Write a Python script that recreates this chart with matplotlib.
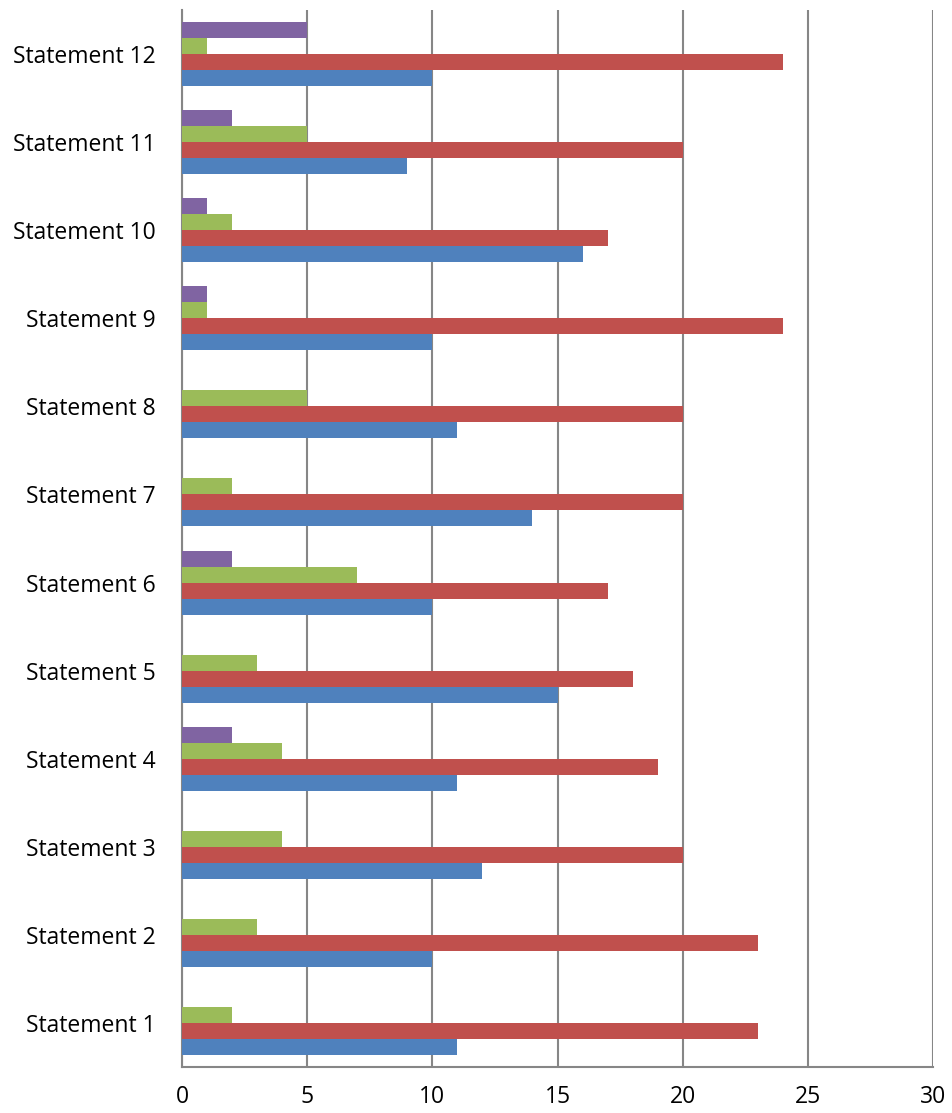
import matplotlib
matplotlib.use('Agg')
import matplotlib.pyplot as plt
import numpy as np

plt.rcParams['font.family'] = ['Open Sans', 'DejaVu Sans']

statements = ['Statement %d' % i for i in range(1, 13)]
blue   = [11, 10, 12, 11, 15, 10, 14, 11, 10, 16, 9, 10]
red    = [23, 23, 20, 19, 18, 17, 20, 20, 24, 17, 20, 24]
green  = [2, 3, 4, 4, 3, 7, 2, 5, 1, 2, 5, 1]
purple = [0, 0, 0, 2, 0, 2, 0, 0, 1, 1, 2, 5]

series = [blue, red, green, purple]
colors = ['#4F81BD', '#C0504D', '#9BBB59', '#8064A2']

fig = plt.figure(figsize=(9.53, 11.13), dpi=100)
ax = fig.add_axes([182/953, 46/1113, 751/953, 1057/1113])

y = np.arange(len(statements))
h = 1/5.5  # excel gap width 150%
for k, (vals, c) in enumerate(zip(series, colors)):
    ax.barh(y + (k - 1.5)*h, vals, height=h, color=c, zorder=3)

ax.set_xlim(0, 30)
ax.set_ylim(-0.5, len(statements) - 0.5)
ax.set_xticks(range(0, 31, 5))
ax.set_yticks(y)
ax.set_yticklabels(statements)
ax.tick_params(axis='both', length=0, labelsize=16.5, colors='black')
ax.tick_params(axis='x', pad=13)
ax.tick_params(axis='y', pad=19)

ax.grid(axis='x', color='#868686', linewidth=1.5, zorder=0)
for s in ['top', 'right']:
    ax.spines[s].set_visible(False)
for s in ['left', 'bottom']:
    ax.spines[s].set_color('#868686')
    ax.spines[s].set_linewidth(1.5)

fig.savefig('out.png', dpi=100)
